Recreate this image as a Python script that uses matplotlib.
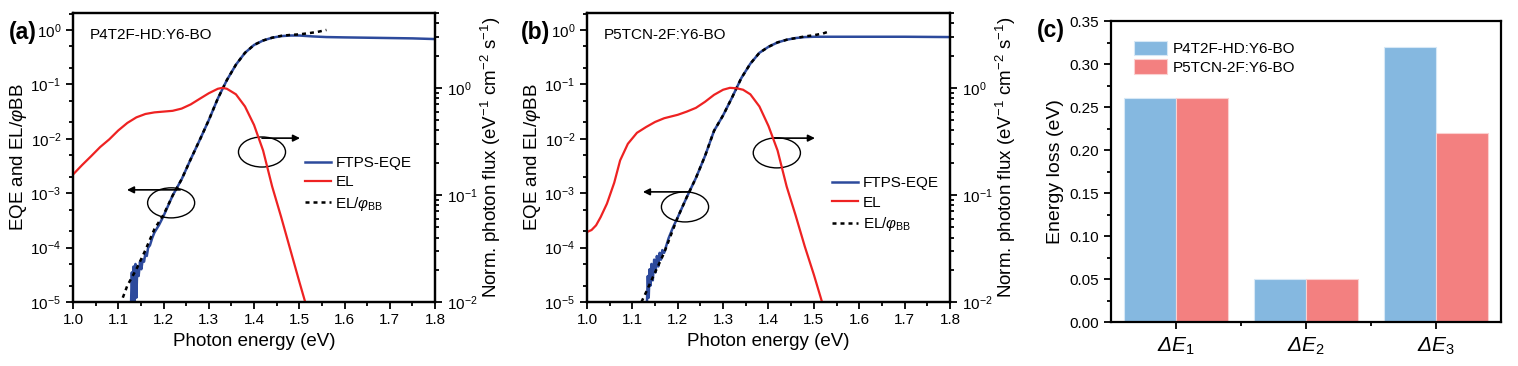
import matplotlib
matplotlib.use("Agg")
import matplotlib.pyplot as plt
from matplotlib.patches import Ellipse
from matplotlib.ticker import LogLocator, MultipleLocator, FixedLocator, NullFormatter, FormatStrFormatter

plt.rcParams['font.family'] = ['Liberation Sans', 'DejaVu Sans']
plt.rcParams['mathtext.fontset'] = 'custom'
plt.rcParams['mathtext.rm'] = 'Liberation Sans'
plt.rcParams['mathtext.it'] = 'Liberation Sans:italic'
plt.rcParams['mathtext.sf'] = 'Liberation Sans:italic'
plt.rcParams['mathtext.bf'] = 'Liberation Sans:bold'
plt.rcParams['axes.linewidth'] = 1.6

# ---------------- data: panel (a) P4T2F-HD:Y6-BO ----------------
eqe_a_E = [1.128, 1.130, 1.132, 1.134, 1.136, 1.138, 1.140, 1.142,
           1.145, 1.148, 1.151, 1.154, 1.157, 1.160, 1.163, 1.166, 1.170, 1.175, 1.180,
           1.19, 1.20,
           1.22, 1.24, 1.26, 1.28, 1.30, 1.32, 1.34, 1.36, 1.38, 1.40, 1.42, 1.44, 1.46, 1.48, 1.50,
           1.53, 1.56, 1.60, 1.65, 1.70, 1.75, 1.80]
eqe_a = [8e-6, 3.5e-5, 8e-6, 4.5e-5, 9e-6, 5e-5, 1.2e-5, 4.5e-5,
         3e-5, 5.5e-5, 4e-5, 6e-5, 5.5e-5, 8e-5, 7e-5, 1.0e-4, 1.1e-4, 1.5e-4, 1.9e-4,
         2.6e-4, 3.8e-4,
         9e-4, 1.8e-3, 4.2e-3, 0.0095, 0.022, 0.055, 0.12, 0.23, 0.38, 0.53, 0.64, 0.72, 0.77, 0.79, 0.79,
         0.76, 0.74, 0.73, 0.72, 0.71, 0.70, 0.68]
elbb_a_E = [1.11, 1.12, 1.14, 1.16, 1.18, 1.20, 1.22, 1.24, 1.26, 1.28, 1.30, 1.32, 1.34,
            1.36, 1.38, 1.40, 1.42, 1.44, 1.46, 1.48, 1.50, 1.52, 1.54, 1.56]
elbb_a = [1.2e-5, 2e-5, 4e-5, 9e-5, 2.2e-4, 4e-4, 9e-4, 1.8e-3, 4.2e-3, 0.0095, 0.022, 0.055, 0.12,
          0.23, 0.38, 0.53, 0.64, 0.72, 0.78, 0.81, 0.83, 0.87, 0.92, 1.0]
el_a_E = [1.00, 1.02, 1.04, 1.06, 1.08, 1.10, 1.12, 1.14, 1.16, 1.18, 1.20, 1.22, 1.24, 1.26,
          1.28, 1.30, 1.32, 1.33, 1.34, 1.36, 1.38, 1.40, 1.42, 1.44, 1.46, 1.48, 1.50, 1.513, 1.52]
el_a = [0.155, 0.19, 0.23, 0.28, 0.33, 0.40, 0.47, 0.53, 0.57, 0.59, 0.60, 0.61, 0.64, 0.70,
        0.79, 0.89, 0.98, 1.0, 0.98, 0.87, 0.67, 0.45, 0.26, 0.12, 0.062, 0.031, 0.0155, 0.01, 0.0085]

# ---------------- data: panel (b) P5TCN-2F:Y6-BO ----------------
eqe_b_E = [1.130, 1.132, 1.134, 1.136, 1.138, 1.140, 1.142, 1.145, 1.148, 1.151, 1.154,
           1.157, 1.160, 1.163, 1.166, 1.170, 1.175, 1.180, 1.19, 1.20, 1.22, 1.24, 1.26,
           1.28, 1.30, 1.32, 1.34, 1.36, 1.38, 1.40, 1.42, 1.44, 1.46, 1.48, 1.50, 1.55,
           1.60, 1.70, 1.80]
eqe_b = [8e-6, 9e-6, 3e-5, 1.2e-5, 4e-5, 2e-5, 5e-5, 2.5e-5, 6e-5, 3.5e-5, 7e-5,
         4.5e-5, 8e-5, 6e-5, 9e-5, 8e-5, 1.1e-4, 1.5e-4, 2.4e-4, 3.6e-4, 8.5e-4, 1.9e-3, 4.8e-3,
         0.014, 0.027, 0.058, 0.13, 0.24, 0.38, 0.49, 0.59, 0.66, 0.71, 0.74, 0.75, 0.75,
         0.75, 0.75, 0.74]
elbb_b_E = [1.12, 1.13, 1.15, 1.17, 1.19, 1.20, 1.22, 1.24, 1.26, 1.28, 1.30, 1.32, 1.34,
            1.36, 1.38, 1.40, 1.42, 1.44, 1.46, 1.48, 1.50, 1.52, 1.535]
elbb_b = [1e-5, 1.5e-5, 3.5e-5, 8e-5, 2.2e-4, 3.6e-4, 8.5e-4, 1.9e-3, 4.8e-3, 0.014, 0.027, 0.058, 0.13,
          0.24, 0.38, 0.49, 0.59, 0.66, 0.71, 0.76, 0.80, 0.86, 0.95]
el_b_E = [1.00, 1.01, 1.02, 1.03, 1.044, 1.06, 1.073, 1.09, 1.11, 1.13, 1.15, 1.17, 1.20, 1.22,
          1.24, 1.26, 1.28, 1.30, 1.315, 1.33, 1.344, 1.36, 1.38, 1.40, 1.42, 1.44, 1.46, 1.48,
          1.50, 1.518, 1.525]
el_b = [0.045, 0.047, 0.052, 0.062, 0.083, 0.13, 0.21, 0.30, 0.38, 0.43, 0.48, 0.52, 0.56, 0.60,
        0.65, 0.74, 0.86, 0.96, 1.0, 0.99, 0.96, 0.87, 0.67, 0.44, 0.26, 0.12, 0.064, 0.033,
        0.018, 0.01, 0.008]

# ---------------- data: panel (c) ----------------
loss_categories = [r'$\mathsf{ΔE}_1$', r'$\mathsf{ΔE}_2$', r'$\mathsf{ΔE}_3$']
loss_p4t2f = [0.26, 0.05, 0.32]
loss_p5tcn = [0.26, 0.05, 0.22]
series_names = ['P4T2F-HD:Y6-BO', 'P5TCN-2F:Y6-BO']

BLUE = '#2d4a9c'
RED = '#ee2222'
TICK_FS = 11
LABEL_FS = 13.5

fig = plt.figure(figsize=(15.18, 3.66), dpi=100)

def spectrum_panel(rect, E_eqe, eqe, E_bb, bb, E_el, el, name, letter, fx,
                   leg_anchor, ell1, arr1, ell2, arr2):
    ax = fig.add_axes(rect)
    ax2 = ax.twinx()
    l1, = ax.plot(E_eqe, eqe, color=BLUE, lw=1.8, label='FTPS-EQE')
    l3, = ax.plot(E_bb, bb, color='black', lw=1.8, linestyle=(0, (1.6, 1.6)))
    l2, = ax2.plot(E_el, el, color=RED, lw=1.6, label='EL')
    ax.set_yscale('log')
    ax2.set_yscale('log')
    ax.set_xlim(1.0, 1.8)
    ax.set_ylim(1e-5, 2.05)
    ax2.set_ylim(1e-2, 5.0)
    ax.xaxis.set_major_locator(MultipleLocator(0.1))
    ax.xaxis.set_minor_locator(MultipleLocator(0.05))
    ax.xaxis.set_major_formatter(FormatStrFormatter('%.1f'))
    ax.yaxis.set_major_locator(LogLocator(base=10, numticks=10))
    ax.yaxis.set_minor_locator(LogLocator(base=10, subs=(2, 5), numticks=10))
    ax.yaxis.set_minor_formatter(NullFormatter())
    ax2.yaxis.set_minor_locator(LogLocator(base=10, subs=range(2, 10), numticks=10))
    ax2.yaxis.set_minor_formatter(NullFormatter())
    for a in (ax, ax2):
        a.tick_params(which='both', direction='out', labelsize=TICK_FS, width=1.3)
        a.tick_params(which='major', length=5)
        a.tick_params(which='minor', length=3)
    ax.tick_params(axis='x', pad=3)
    ax.set_xlabel('Photon energy (eV)', fontsize=LABEL_FS)
    ax.set_ylabel(r'EQE and EL/$\mathit{\varphi}$BB', fontsize=LABEL_FS, labelpad=1)
    ax2.set_ylabel(r'Norm. photon flux (eV$^{-1}$ cm$^{-2}$ s$^{-1}$)', fontsize=LABEL_FS, labelpad=1)
    ax.text(0.047, 0.925, name, transform=ax.transAxes, fontsize=11, va='center', ha='left')
    fig.text(fx, 0.91, letter, fontsize=16.5, fontweight='bold', va='center', ha='left')
    ax.legend([l1, l2, l3], ['FTPS-EQE', 'EL', r'EL/$\mathit{\varphi}_{\mathrm{BB}}$'],
              loc='upper left', bbox_to_anchor=leg_anchor, frameon=False, fontsize=11,
              handlelength=1.7, handletextpad=0.3, borderpad=0, borderaxespad=0,
              labelspacing=0.35)
    for (cx, cy), (x0, x1, y) in ((ell1, arr1), (ell2, arr2)):
        ax.add_patch(Ellipse((cx, cy), 0.13, 0.104, transform=ax.transAxes,
                             fill=False, edgecolor='black', lw=1.0, zorder=5))
        ax.annotate('', xy=(x1, y), xytext=(x0, y), xycoords='axes fraction',
                    arrowprops=dict(arrowstyle='-|>', color='black', lw=1.2, mutation_scale=10,
                                    shrinkA=0, shrinkB=0))
    return ax

spectrum_panel([0.0481, 0.1749, 0.2385, 0.7896], eqe_a_E, eqe_a, elbb_a_E, elbb_a, el_a_E, el_a,
               'P4T2F-HD:Y6-BO', '(a)', 0.006, (0.64, 0.505),
               (0.271, 0.343), (0.296, 0.149, 0.388), (0.522, 0.519), (0.522, 0.627, 0.567))
spectrum_panel([0.3867, 0.1749, 0.2391, 0.7896], eqe_b_E, eqe_b, elbb_b_E, elbb_b, el_b_E, el_b,
               'P5TCN-2F:Y6-BO', '(b)', 0.343, (0.675, 0.435),
               (0.270, 0.329), (0.284, 0.154, 0.381), (0.523, 0.516), (0.512, 0.628, 0.567))

# ---------------- panel (c) ----------------
axc = fig.add_axes([0.7319, 0.1202, 0.2569, 0.8224])
x = [1, 2, 3]
w = 0.4
axc.bar([i - w / 2 for i in x], loss_p4t2f, width=w, color='#85b8e0', edgecolor='#d6e8f6',
        linewidth=0.8, label=series_names[0])
axc.bar([i + w / 2 for i in x], loss_p5tcn, width=w, color='#f38080', edgecolor='#fbd0d0',
        linewidth=0.8, label=series_names[1])
axc.set_xlim(0.5, 3.5)
axc.set_ylim(0, 0.35)
axc.set_xticks(x)
axc.set_xticklabels(loss_categories)
axc.xaxis.set_minor_locator(FixedLocator([1.5, 2.5]))
axc.yaxis.set_major_locator(MultipleLocator(0.05))
axc.yaxis.set_minor_locator(MultipleLocator(0.025))
axc.yaxis.set_major_formatter(FormatStrFormatter('%.2f'))
axc.tick_params(which='both', direction='out', labelsize=TICK_FS, width=1.3)
axc.tick_params(axis='x', labelsize=15, pad=5)
axc.tick_params(which='major', length=5)
axc.tick_params(which='minor', length=3)
axc.set_ylabel('Energy loss (eV)', fontsize=14, labelpad=4)
axc.legend(loc='upper left', bbox_to_anchor=(0.06, 0.935), frameon=False, fontsize=11,
           handlelength=2.1, handleheight=1.1, handletextpad=0.4, borderpad=0,
           borderaxespad=0, labelspacing=0.2)
fig.text(0.683, 0.918, '(c)', fontsize=16.5, fontweight='bold', va='center', ha='left')

fig.savefig('out.png', dpi=100)
